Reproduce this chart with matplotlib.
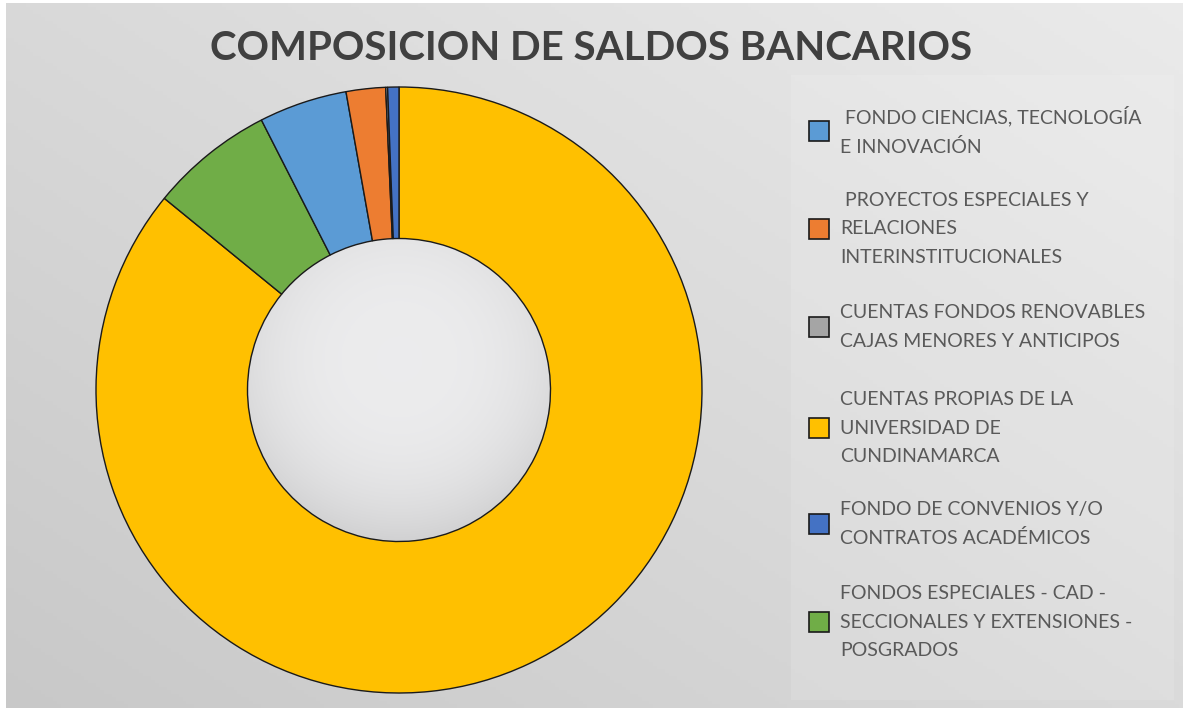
import numpy as np
import matplotlib
matplotlib.use("Agg")
import matplotlib.pyplot as plt
from matplotlib.patches import Rectangle, Circle

# slices, clockwise from 12 o'clock
slice_names = [
    "CUENTAS PROPIAS DE LA\nUNIVERSIDAD DE\nCUNDINAMARCA",
    "FONDOS ESPECIALES - CAD -\nSECCIONALES Y EXTENSIONES -\nPOSGRADOS",
    " FONDO CIENCIAS, TECNOLOGÍA\nE INNOVACIÓN",
    " PROYECTOS ESPECIALES Y\nRELACIONES\nINTERINSTITUCIONALES",
    "CUENTAS FONDOS RENOVABLES\nCAJAS MENORES Y ANTICIPOS",
    "FONDO DE CONVENIOS Y/O\nCONTRATOS ACADÉMICOS",
]
slice_values = [85.9, 6.6, 4.7, 2.1, 0.1, 0.6]
slice_colors = ["#FFC000", "#70AD47", "#5B9BD5", "#ED7D31", "#A5A5A5", "#4472C4"]

# order the legend lists them in
legend_order = [2, 3, 4, 0, 5, 1]

W, H = 1183, 708
fig = plt.figure(figsize=(W / 100, H / 100), dpi=100)
fig.patch.set_facecolor("white")

# grey gradient backdrop
bg = fig.add_axes([6 / W, 0, (W - 6) / W, (H - 3) / H])
xs = np.linspace(0, 1, 300)
ys = np.linspace(0, 1, 200)
X, Y = np.meshgrid(xs, ys)
g = 0.785 + 0.07 * X + 0.065 * Y
bg.imshow(np.dstack([g, g, g]), origin="lower", extent=[0, 1, 0, 1], aspect="auto")
bg.add_patch(Rectangle((785 / 1177, 8 / 705), 383 / 1177, 625 / 705,
                       facecolor="white", alpha=0.12, edgecolor="none"))
bg.set_xlim(0, 1)
bg.set_ylim(0, 1)
bg.axis("off")

# donut
cx, cy, R = 399, 390, 303
ax = fig.add_axes([(cx - R) / W, (H - cy - R) / H, 2 * R / W, 2 * R / H])
ax.pie(slice_values, colors=slice_colors, startangle=90, counterclock=False,
       radius=1, wedgeprops=dict(width=0.5, edgecolor="#1a1a1a", linewidth=1.0))

# soft light fill in the hole
u = np.linspace(-0.5, 0.5, 200)
U, V = np.meshgrid(u, u)
rr = np.sqrt(U ** 2 + (V - 0.1) ** 2) / 0.5
h = np.clip(0.925 - 0.06 * rr ** 3, 0, 1)
hole = ax.imshow(np.dstack([h, h, h * 1.005]).clip(0, 1), origin="lower",
                 extent=[-0.5, 0.5, -0.5, 0.5], zorder=0.5)
hole.set_clip_path(Circle((0, 0), 0.5, transform=ax.transData))
ax.set_xlim(-1, 1)
ax.set_ylim(-1, 1)
ax.axis("off")

fig.text(591 / W, 1 - 48 / H, "COMPOSICION DE SALDOS BANCARIOS",
         ha="center", va="center", fontsize=29, fontweight="bold",
         color="#404040", family="Lato")

# legend drawn by hand
entry_y = [131, 229, 327, 428, 524, 622]
for k, idx in enumerate(legend_order):
    yc = entry_y[k]
    fig.patches.append(Rectangle((809 / W, 1 - (yc + 10) / H), 20 / W, 20 / H,
                                 transform=fig.transFigure, facecolor=slice_colors[idx],
                                 edgecolor="#1a1a1a", linewidth=1.2))
    fig.text(840 / W, 1 - yc / H, slice_names[idx], ha="left", va="center",
             fontsize=14, color="#595959", family="Lato", linespacing=1.8)

fig.savefig("out.png", dpi=100)
